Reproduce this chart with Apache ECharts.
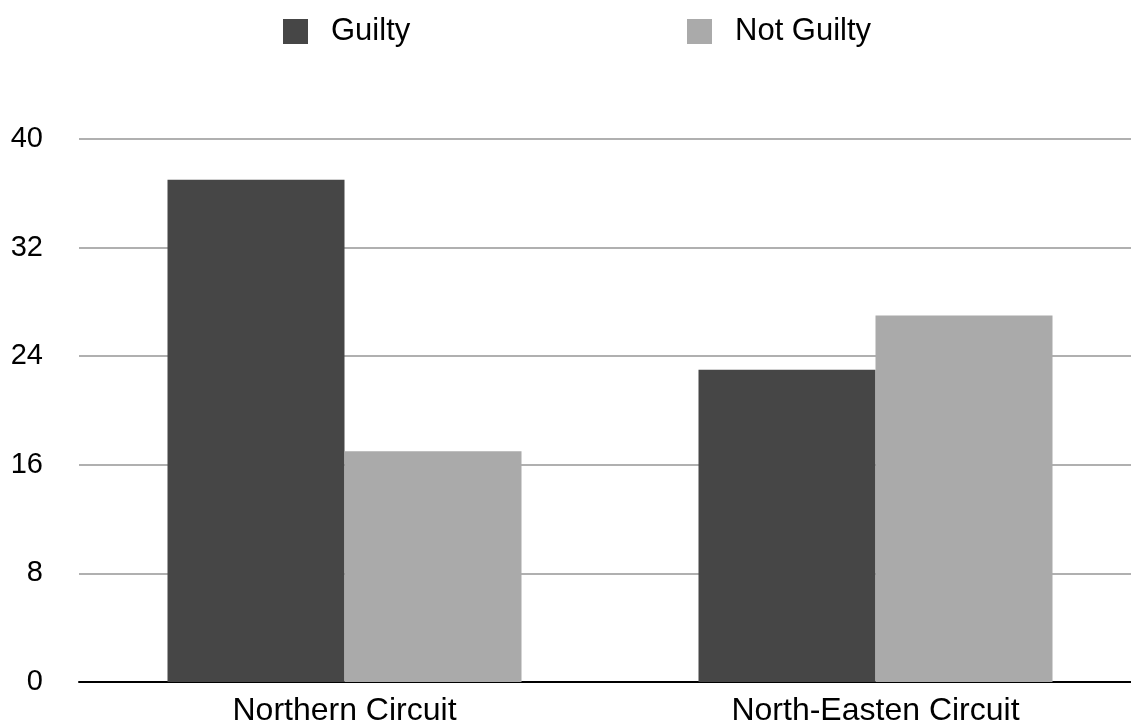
<!DOCTYPE html>
<html>
<head>
<meta charset="utf-8">
<title>Verdicts by Circuit</title>
<script src="https://cdn.jsdelivr.net/npm/echarts@6/dist/echarts.min.js"></script>
<style>
  html, body { margin: 0; padding: 0; background: #ffffff; overflow: hidden; }
  /* the plot runs a little past the right edge of the window */
  #chart { width: 1141px; height: 726px; }
</style>
</head>
<body>
<div id="chart"></div>
<script>
// Circuits shown along the x axis
const circuits = ['Northern Circuit', 'North-Easten Circuit'];
// Number of verdicts per circuit
const guilty = [37, 23];
const notGuilty = [17, 27];
// Value axis range and step
const yMin = 0;
const yMax = 40;
const yStep = 8;

const FONT = '"Liberation Sans", Arial, Helvetica, sans-serif';

const chart = echarts.init(document.getElementById('chart'), null, { renderer: 'canvas' });

const legendBase = {
  top: 11,
  icon: 'rect',
  itemWidth: 25,
  itemHeight: 25,
  textStyle: { fontFamily: FONT, fontSize: 31, color: '#000000', padding: [0, 0, 0, 18] }
};

chart.setOption({
  backgroundColor: '#ffffff',
  animation: false,
  legend: [
    Object.assign({}, legendBase, { left: 278, data: ['Guilty'] }),
    Object.assign({}, legendBase, { left: 682, data: ['Not Guilty'] })
  ],
  grid: {
    left: 79, top: 139, right: 0, bottom: 44,
    containLabel: false,
    outerBoundsMode: 'none'
  },
  xAxis: {
    type: 'category',
    data: circuits,
    axisLine: { lineStyle: { color: '#000000', width: 2 } },
    axisTick: { show: false },
    axisLabel: { fontFamily: FONT, fontSize: 32, color: '#000000', margin: 13 }
  },
  yAxis: {
    type: 'value',
    min: yMin,
    max: yMax,
    interval: yStep,
    axisLine: { show: false },
    axisTick: { show: false },
    axisLabel: { fontFamily: FONT, fontSize: 29, color: '#000000', margin: 36 },
    splitLine: { lineStyle: { color: '#b0b0b0', width: 2 } }
  },
  series: [
    {
      name: 'Guilty',
      type: 'bar',
      data: guilty,
      barWidth: 177,
      barGap: '0%',
      itemStyle: { color: '#464646' }
    },
    {
      name: 'Not Guilty',
      type: 'bar',
      data: notGuilty,
      barWidth: 177,
      barGap: '0%',
      itemStyle: { color: '#aaaaaa' }
    }
  ]
});
</script>
</body>
</html>
